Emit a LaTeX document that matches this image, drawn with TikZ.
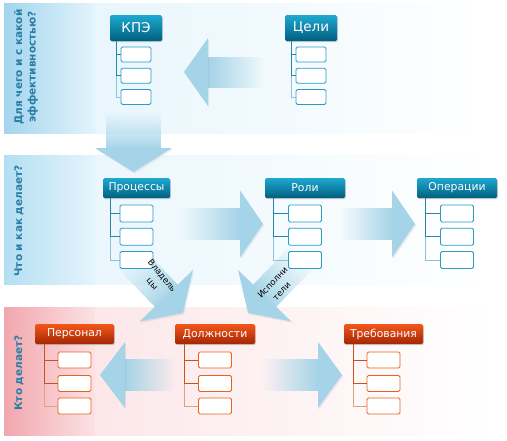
\documentclass[tikz,border=0pt]{standalone}
\usepackage{fontspec}
\setmainfont{DejaVu Sans}
\usetikzlibrary{fadings,shadows}
\definecolor{bAleft}{HTML}{A3D5EE}
\definecolor{bAmid}{HTML}{E3F4FC}
\definecolor{bBleft}{HTML}{B3DEF2}
\definecolor{bBmid}{HTML}{E6F5FC}
\definecolor{rCleft}{HTML}{F2A7AE}
\definecolor{rCmid}{HTML}{FBE2E4}
\definecolor{tealtop}{HTML}{1EA9D1}
\definecolor{tealbot}{HTML}{005F7E}
\definecolor{redtop}{HTML}{F4561A}
\definecolor{redbot}{HTML}{A32705}
\definecolor{tealline}{HTML}{2A84A6}
\definecolor{teallight}{HTML}{8EC3D4}
\definecolor{tealbox}{HTML}{2B9BC2}
\definecolor{redline}{HTML}{C8521E}
\definecolor{redlight}{HTML}{E2A07C}
\definecolor{redbox}{HTML}{E8621E}
\definecolor{arrowc}{HTML}{A5D3E7}
\definecolor{labc}{HTML}{2A7DA4}
\tikzfading[name=tailfade, left color=transparent!100, middle color=transparent!35, right color=transparent!0]
\def\offAa{26.5}\def\offAb{47.75}\def\offAc{69}
\def\offBa{25.5}\def\offBb{48.75}\def\offBc{72}
\def\offCa{26}\def\offCb{49.5}\def\offCc{72}
\newcommand{\buildtree}[7]{%
  \node[child#6] (#1a) at (#2,#3+\csname off#6a\endcsname) {};
  \node[child#6] (#1b) at (#2,#3+\csname off#6b\endcsname) {};
  \node[child#6] (#1c) at (#2,#3+\csname off#6c\endcsname) {};
  \node[hdr#6, minimum width=#4pt] (#1) at (#2,#3) {#5};
  \coordinate (#1t) at (#7,#3);
  \draw[line#6] (#1t |- #1.south) |- (#1a.west);
  \draw[line#6] (#1t |- #1.south) |- (#1b.west);
  \draw[lineL#6] (#1t |- #1b.west) |- (#1c.west);
}
\newcommand{\bigarrow}[7]{%
  \begin{scope}[shift={(#1,#2)}, rotate=#3]
    \fill[arrowc, path fading=tailfade, fading angle=#3] (-#4+0.5,-#6) rectangle (-#4-#7,#6);
    \fill[arrowc, drop shadow={opacity=0.12, shadow xshift=1.2pt, shadow yshift=-1.5pt}] (0,0) -- (-#4,#5) -- (-#4,-#5) -- cycle;
  \end{scope}}
\tikzset{
  hdr/.style={rounded corners=1.5pt, text=white, inner sep=0pt,
    drop shadow={opacity=0.35, shadow xshift=0.8pt, shadow yshift=-1.2pt}},
  hdrA/.style={hdr, top color=tealtop, bottom color=tealbot, minimum height=26pt, font=\fontsize{13.5}{15}\selectfont},
  hdrB/.style={hdr, top color=tealtop, bottom color=tealbot, minimum height=20pt, font=\fontsize{10.8}{12}\selectfont},
  hdrC/.style={hdr, top color=redtop, bottom color=redbot, minimum height=20pt, font=\fontsize{10.8}{12}\selectfont},
  kid/.style={rounded corners=1.5pt, inner sep=0pt, line width=0.9pt},
  childA/.style={kid, draw=tealbox, fill=white, minimum width=30pt, minimum height=15pt},
  childB/.style={kid, draw=tealbox, fill=white, minimum width=33pt, minimum height=17pt},
  childC/.style={kid, draw=redbox, fill=white, minimum width=33pt, minimum height=16pt},
  lineA/.style={draw=tealline, line width=1pt},
  lineB/.style={draw=tealline, line width=1pt},
  lineC/.style={draw=redline, line width=1pt},
  lineLA/.style={draw=teallight, line width=1pt},
  lineLB/.style={draw=teallight, line width=1pt},
  lineLC/.style={draw=redlight, line width=1pt},
  lab/.style={rotate=90, align=center, text=labc, inner sep=0pt, font=\bfseries\fontsize{10.5}{13.5}\selectfont},
  dtext/.style={align=center, inner sep=0pt, font=\fontsize{8.6}{12.5}\selectfont}
}
\begin{document}
\begin{tikzpicture}[x=1pt,y=-1pt]
\useasboundingbox (0,0) rectangle (507,440);
% bands
\shade[left color=bAmid, right color=white] (4,3) rectangle (492,133);
\shade[left color=bAleft, right color=bAmid] (4,3) rectangle (95,133);
\shade[left color=bBmid, right color=white] (4,155) rectangle (500,284);
\shade[left color=bBleft, right color=bBmid] (4,155) rectangle (95,284);
\shade[left color=rCmid, right color=white] (4,307) rectangle (495,435);
\shade[left color=rCleft, right color=rCmid] (4,307) rectangle (95,435);
% labels
\node[lab] (labA) at (26,67) {Для чего и с какой\\эффективностью?};
\node[lab] (labB) at (19,221) {Что и как делает?};
\node[lab] (labC) at (19,373) {Кто делает?};
% arrows
\bigarrow{184}{72}{180}{24}{34}{15.5}{57}
\bigarrow{133.5}{172}{-90}{24}{38.5}{27.5}{36}
\bigarrow{263}{224}{0}{23}{33.5}{16}{60}
\bigarrow{415}{224}{0}{23}{33.5}{16}{52}
\bigarrow{183}{313}{-46}{24}{37}{16}{50}
\bigarrow{248}{313}{-134}{24}{37}{16}{50}
\bigarrow{100}{375}{180}{25}{33}{16}{50}
\bigarrow{342}{375}{0}{24}{33}{16}{56}
% trees
\buildtree{kpe}{136}{28}{52}{КПЭ}{A}{116}
\buildtree{goal}{311}{28}{52}{Цели}{A}{291}
\buildtree{proc}{136.5}{188}{67}{Процессы}{B}{110}
\buildtree{role}{305}{188}{80}{Роли}{B}{273}
\buildtree{oper}{457}{188}{80}{Операции}{B}{425}
\buildtree{pers}{74.5}{334}{79}{Персонал}{C}{44}
\buildtree{pos}{215}{334}{80}{Должности}{C}{184}
\buildtree{req}{383.5}{334}{79}{Требования}{C}{353}
% arrow labels
\node[dtext, rotate=-50] (own) at (157,280) {Владель\\цы};
\node[dtext, rotate=46] (exe) at (277,287) {Исполни\\тели};
\end{tikzpicture}
\end{document}
